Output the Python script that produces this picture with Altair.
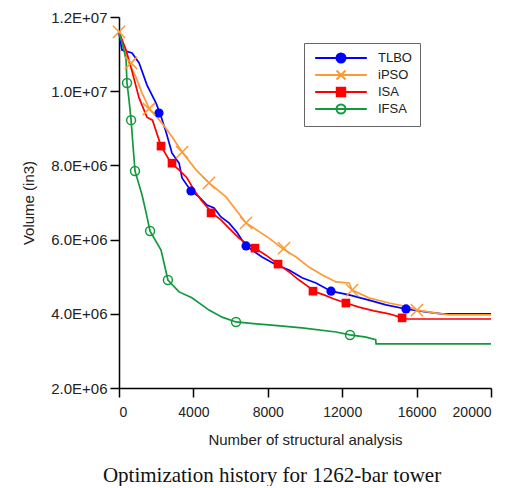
import altair as alt
import pandas as pd

series_names = ["TLBO", "iPSO", "ISA", "IFSA"]
series_colors = ["#0000ff", "#ff9933", "#ff0000", "#12993c"]

# --- line breakpoints ---
tlbo_x = [0, 160, 700, 1080, 1500, 1990, 2200, 2530, 2850, 3230, 3390, 3870, 4300, 4730, 5110,
          5480, 5910, 6340, 6610, 6830, 7690, 8440, 9140, 9840, 10590, 11400, 12370, 13440,
          14350, 15430, 16500, 17370, 20000]
tlbo_y = [11.57e6, 11.11e6, 11.03e6, 10.76e6, 10.17e6, 9.68e6, 9.41e6, 8.90e6, 8.33e6, 8.06e6,
          7.66e6, 7.31e6, 7.15e6, 6.93e6, 6.85e6, 6.61e6, 6.45e6, 6.20e6, 5.99e6, 5.83e6, 5.53e6,
          5.32e6, 5.18e6, 4.97e6, 4.83e6, 4.61e6, 4.51e6, 4.37e6, 4.24e6, 4.13e6, 4.05e6, 4.00e6,
          4.00e6]

ipso_x = [0, 540, 910, 1240, 1610, 2310, 2850, 3390, 4140, 4840, 5750, 6830, 8060, 8820, 9520,
          10210, 10910, 11670, 12370, 12530, 13440, 14520, 15590, 16020, 17040, 17740, 20000]
ipso_y = [11.6e6, 10.76e6, 10.38e6, 9.95e6, 9.55e6, 9.14e6, 8.77e6, 8.36e6, 7.88e6, 7.53e6,
          7.15e6, 6.45e6, 6.04e6, 5.75e6, 5.53e6, 5.26e6, 5.05e6, 4.86e6, 4.83e6, 4.64e6, 4.43e6,
          4.29e6, 4.18e6, 4.10e6, 4.02e6, 3.97e6, 3.97e6]

isa_x = [0, 270, 380, 650, 1080, 1500, 1800, 2260, 2800, 3230, 3660, 4030, 4410, 5000, 5480,
         5910, 6450, 6880, 7310, 7900, 8550, 9140, 9680, 10210, 10430, 11020, 11560, 12200,
         12900, 13710, 14520, 15220, 15300, 20000]
isa_y = [11.6e6, 11.25e6, 11.11e6, 10.63e6, 9.82e6, 9.30e6, 9.22e6, 8.52e6, 8.06e6, 7.88e6,
         7.66e6, 7.34e6, 7.07e6, 6.72e6, 6.53e6, 6.31e6, 6.04e6, 5.88e6, 5.77e6, 5.58e6, 5.34e6,
         5.13e6, 4.91e6, 4.72e6, 4.61e6, 4.51e6, 4.40e6, 4.29e6, 4.18e6, 4.08e6, 4.00e6, 3.89e6,
         3.86e6, 3.86e6]

ifsa_x = [0, 270, 380, 430, 540, 650, 750, 860, 1240, 1450, 1670, 2260, 2630, 3230, 3920, 4840,
          5540, 6290, 7530, 8060, 9840, 11670, 12420, 13280, 13800, 13820, 20000]
ifsa_y = [11.6e6, 11.1e6, 10.84e6, 10.22e6, 9.76e6, 9.22e6, 8.55e6, 7.85e6, 7.20e6, 6.74e6,
          6.23e6, 5.72e6, 4.91e6, 4.59e6, 4.43e6, 4.10e6, 3.91e6, 3.78e6, 3.72e6, 3.70e6, 3.62e6,
          3.51e6, 3.43e6, 3.37e6, 3.30e6, 3.19e6, 3.19e6]

# --- marker positions ---
tlbo_mx = [2150, 3870, 6830, 11400, 15430]
tlbo_my = [9.41e6, 7.31e6, 5.83e6, 4.61e6, 4.13e6]
ipso_mx = [0, 650, 1610, 3390, 4840, 6830, 8870, 12530, 16020]
ipso_my = [11.6e6, 10.76e6, 9.52e6, 8.36e6, 7.53e6, 6.45e6, 5.77e6, 4.64e6, 4.10e6]
isa_mx = [2260, 2850, 4950, 7310, 8550, 10430, 12200, 15220]
isa_my = [8.52e6, 8.06e6, 6.72e6, 5.77e6, 5.34e6, 4.61e6, 4.29e6, 3.89e6]
ifsa_mx = [430, 650, 860, 1670, 2630, 6290, 12420]
ifsa_my = [10.22e6, 9.22e6, 7.85e6, 6.23e6, 4.91e6, 3.78e6, 3.43e6]

x_ticks = [0, 4000, 8000, 12000, 16000, 20000]
y_ticks = [2e6, 4e6, 6e6, 8e6, 10e6, 12e6]

line_sets = [("TLBO", tlbo_x, tlbo_y), ("iPSO", ipso_x, ipso_y),
             ("ISA", isa_x, isa_y), ("IFSA", ifsa_x, ifsa_y)]
lines = pd.concat([
    pd.DataFrame({"series": n, "x": xs, "y": ys, "i": range(len(xs))})
    for n, xs, ys in line_sets
])
marks = pd.concat([
    pd.DataFrame({"series": n, "x": xs, "y": ys})
    for n, xs, ys in [("TLBO", tlbo_mx, tlbo_my), ("iPSO", ipso_mx, ipso_my),
                      ("ISA", isa_mx, isa_my), ("IFSA", ifsa_mx, ifsa_my)]
])

FONT = "Liberation Sans"

xenc = alt.X("x:Q", scale=alt.Scale(domain=[0, 20000], nice=False),
             axis=alt.Axis(values=x_ticks, title="Number of structural analysis", format="d",
                           titlePadding=13, labelPadding=8, labelFontSize=14))
yenc = alt.Y("y:Q", scale=alt.Scale(domain=[2e6, 12e6], nice=False, zero=False),
             axis=alt.Axis(values=y_ticks, title="Volume (in3)", titlePadding=14,
                           labelPadding=3, labelFontSize=15,
                           labelExpr="upper(replace(format(datum.value, '.1e'), 'e+', 'e+0'))"))

line_layers = [
    alt.Chart(lines).transform_filter(alt.datum.series == n).mark_line(
        strokeWidth=1.7, color=c).encode(x=xenc, y=yenc, order=alt.Order("i:Q"))
    for n, c in zip(series_names, series_colors)
]

def sub(name):
    return alt.Chart(marks).transform_filter(alt.datum.series == name)

tlbo_pts = sub("TLBO").mark_circle(size=85, opacity=1, color="#0000ff").encode(x="x:Q", y="y:Q")
ipso_pts = sub("iPSO").mark_point(shape="M-1,-1L1,1M-1,1L1,-1", size=150, strokeWidth=1.5,
                                  color="#ff9933", opacity=1).encode(x="x:Q", y="y:Q")
isa_pts = sub("ISA").mark_square(size=75, opacity=1, color="#ff0000").encode(x="x:Q", y="y:Q")
ifsa_pts = sub("IFSA").mark_point(shape="circle", size=80, strokeWidth=1.5, filled=False,
                                  color="#12993c", opacity=1).encode(x="x:Q", y="y:Q")

circ = "M0.75,0A0.75,0.75,0,1,1,-0.75,0A0.75,0.75,0,1,1,0.75,0Z"
line_part = "M-4.3,0H4.3"
legend_shapes = [
    line_part + circ,
    line_part + "M-0.75,-0.75L0.75,0.75M-0.75,0.75L0.75,-0.75",
    line_part + "M-0.7,-0.7H0.7V0.7H-0.7Z",
    line_part + circ,
]
legend_fills = ["#0000ff", "transparent", "#ff0000", "transparent"]

legend_layer = alt.Chart(marks).mark_point(filled=False, strokeWidth=2, opacity=0).encode(
    x="x:Q", y="y:Q",
    color=alt.Color("series:N", scale=alt.Scale(domain=series_names, range=series_colors),
                    legend=alt.Legend(title=None, orient="none", legendX=185, legendY=26,
                                      symbolSize=144, symbolOffset=22, labelOffset=30,
                                      strokeColor="#666666", padding=8, rowPadding=-1,
                                      labelFont=FONT, labelFontSize=13, labelColor="#222222",
                                      symbolStrokeWidth=2, symbolOpacity=1)),
    shape=alt.Shape("series:N", scale=alt.Scale(domain=series_names, range=legend_shapes)),
    fill=alt.Fill("series:N", scale=alt.Scale(domain=series_names, range=legend_fills)),
)

chart = alt.layer(*line_layers, tlbo_pts, ipso_pts, isa_pts, ifsa_pts, legend_layer).properties(
    width=372, height=371,
    padding={"left": 13, "top": 2, "right": 5, "bottom": 0},
    title=alt.TitleParams("Optimization history for 1262-bar tower", orient="bottom",
                          anchor="middle", font="Liberation Serif", fontSize=21,
                          fontWeight="normal", color="#111111", offset=18, dx=-33),
).configure_view(stroke=None).configure_axis(
    grid=False, domainColor="#000000", domainWidth=1.5, tickColor="#000000", tickWidth=1.5,
    tickSize=9, labelFont=FONT, labelColor="#222222",
    titleFont=FONT, titleFontSize=15, titleFontWeight="normal", titleColor="#222222",
)

chart.save("out.html", embed_options={"renderer": "svg", "actions": False})
